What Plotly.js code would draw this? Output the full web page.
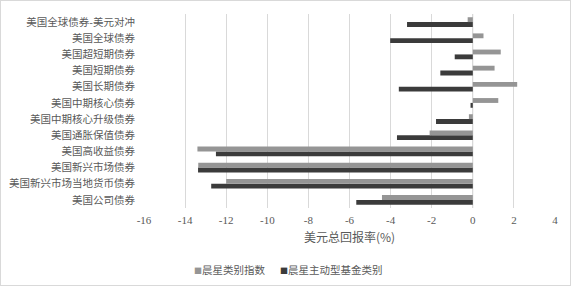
<!DOCTYPE html>
<html>
<head>
<meta charset="utf-8">
<script src="https://cdn.plot.ly/plotly-3.0.1.min.js"></script>
<style>
  html, body { margin: 0; padding: 0; background: #fff; }
  #chart { position: absolute; left: 0; top: 0; width: 571px; height: 287px; }
  #frame { position: absolute; left: 0; top: 0; width: 571px; height: 286px; box-sizing: border-box; border: 1px solid #d9d9d9; pointer-events: none; }
</style>
</head>
<body>
<div id="chart"></div>
<div id="frame"></div>
<script>
// Categories listed bottom to top
const categories = [
  "美国公司债券",
  "美国新兴市场当地货币债券",
  "美国新兴市场债券",
  "美国高收益债券",
  "美国通胀保值债券",
  "美国中期核心升级债券",
  "美国中期核心债券",
  "美国长期债券",
  "美国短期债券",
  "美国超短期债券",
  "美国全球债券",
  "美国全球债券-美元对冲"
];
const seriesNames = ["晨星类别指数", "晨星主动型基金类别"];
const indexReturns = [-4.42, -12.0, -13.36, -13.4, -2.1, -0.19, 1.24, 2.16, 1.06, 1.36, 0.52, -0.25];
const activeReturns = [-5.67, -12.73, -13.37, -12.5, -3.69, -1.79, -0.11, -3.6, -1.58, -0.88, -4.02, -3.2];
const xTickVals = [-16, -14, -12, -10, -8, -6, -4, -2, 0, 2, 4];
const xTitle = "美元总回报率(%)";

const grayColor = "#959595";
const darkColor = "#3b3b3b";
const cjk = "'Noto Sans CJK SC', 'Noto Sans', sans-serif";
const serif = "'Liberation Serif', 'Times New Roman', serif";
const txtColor = "#595959";

const traces = [
  { type: "bar", orientation: "h", name: seriesNames[1], y: categories, x: activeReturns,
    marker: { color: darkColor }, hoverinfo: "x+y" },
  { type: "bar", orientation: "h", name: seriesNames[0], y: categories, x: indexReturns,
    marker: { color: grayColor }, hoverinfo: "x+y" }
];

function legendText(color, name) {
  return '<span style="color:' + color + ';font-size:8px">■</span>' + name;
}

const layout = {
  width: 571, height: 287,
  margin: { l: 144, r: 16, t: 14, b: 79 },
  paper_bgcolor: "#ffffff", plot_bgcolor: "#ffffff",
  barmode: "group", bargap: 0.4, bargroupgap: 0,
  font: { family: cjk, size: 10.5, color: txtColor },
  showlegend: false,
  xaxis: {
    range: [-16, 4], tickvals: xTickVals, ticktext: xTickVals.map(String),
    showgrid: true, gridcolor: "#d9d9d9", gridwidth: 1,
    zeroline: false, showline: false, ticks: "",
    tickfont: { family: serif, size: 11, color: txtColor },
    ticklabelstandoff: 4,
    title: { text: xTitle, font: { family: cjk, size: 12, color: txtColor }, standoff: 8 },
    fixedrange: true
  },
  yaxis: {
    type: "category", categoryorder: "array", categoryarray: categories,
    showgrid: false, zeroline: false, showline: false, ticks: "",
    ticklabelstandoff: 8,
    tickfont: { family: cjk, size: 10.5, color: txtColor },
    fixedrange: true
  },
  shapes: [
    { type: "line", xref: "x", yref: "paper", x0: 0, x1: 0, y0: 0, y1: 1,
      line: { color: "#d9d9d9", width: 1 }, layer: "below" }
  ],
  annotations: [
    { xref: "paper", yref: "paper", x: (192 - 144) / 411, y: (208 - 269) / 194,
      xanchor: "left", yanchor: "middle", showarrow: false,
      text: legendText(grayColor, seriesNames[0]),
      font: { family: cjk, size: 10.5, color: txtColor } },
    { xref: "paper", yref: "paper", x: (278 - 144) / 411, y: (208 - 269) / 194,
      xanchor: "left", yanchor: "middle", showarrow: false,
      text: legendText(darkColor, seriesNames[1]),
      font: { family: cjk, size: 10.5, color: txtColor } }
  ]
};

Plotly.newPlot("chart", traces, layout, { displayModeBar: false, staticPlot: true });
</script>
</body>
</html>
